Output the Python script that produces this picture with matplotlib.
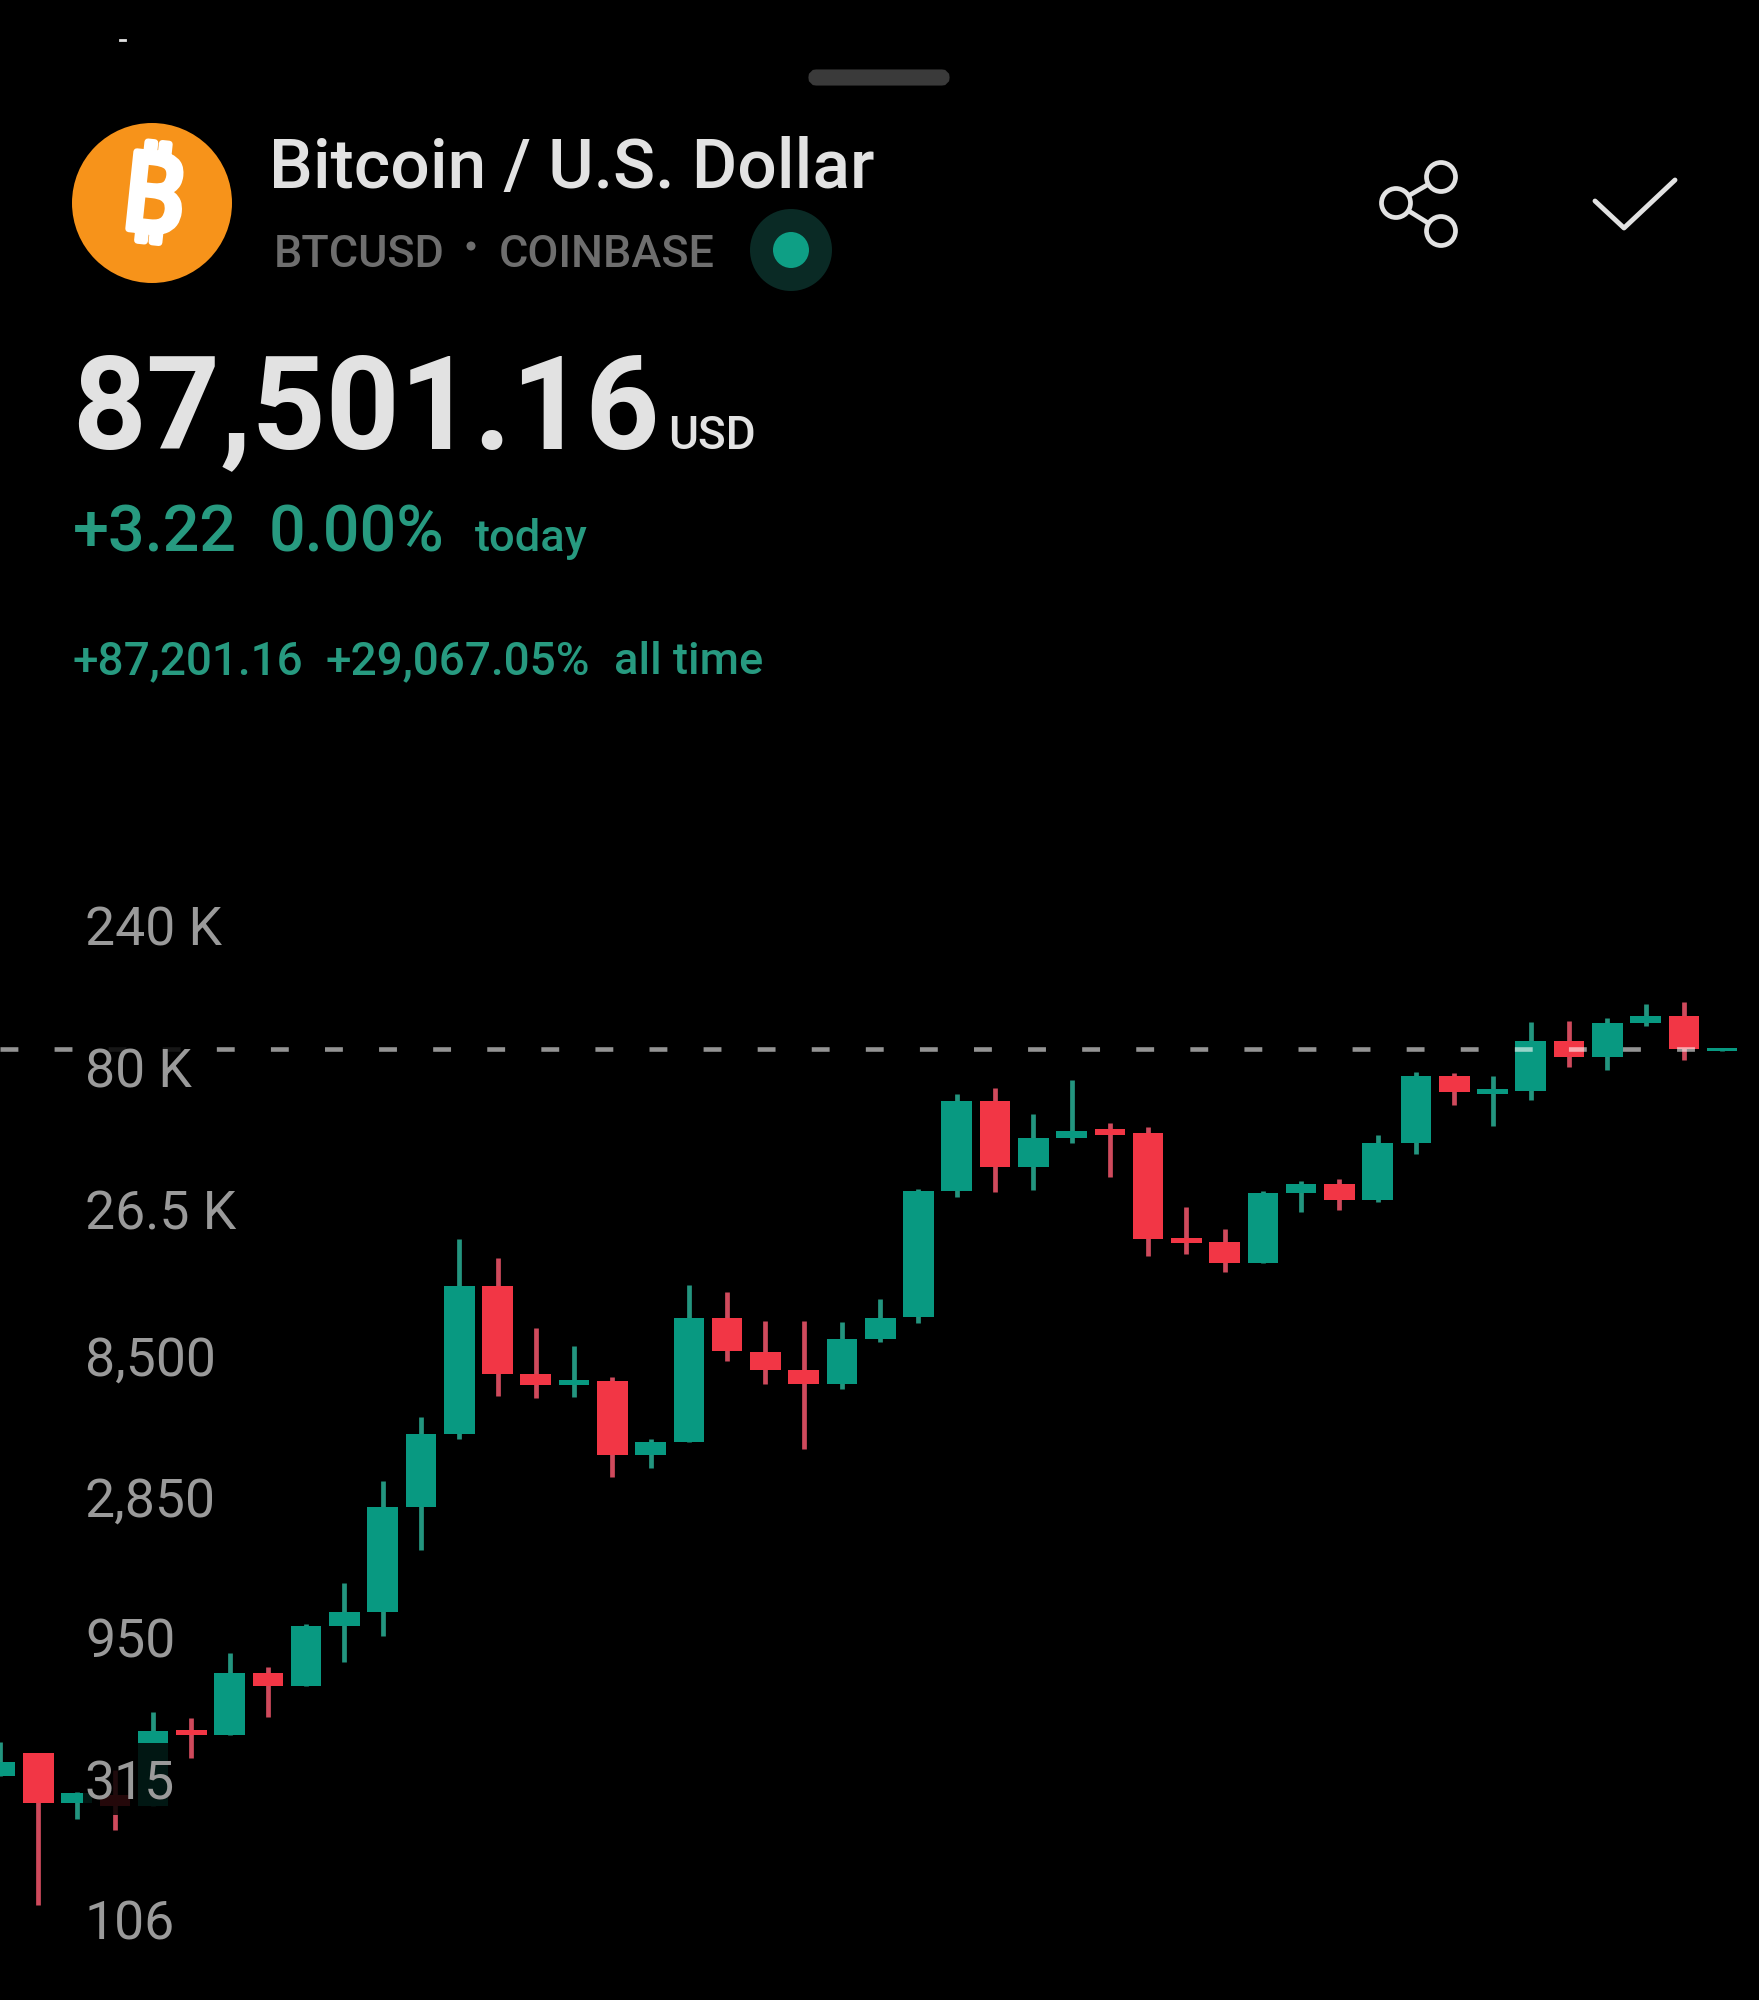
import matplotlib
matplotlib.use("Agg")
import matplotlib.pyplot as plt
import matplotlib.patheffects as pe
from matplotlib.patches import Circle, Rectangle, FancyBboxPatch

# monthly-ish candles, oldest first
opens = [308.4, 368.7, 250.0, 266.0, 244.3, 440.8, 424.0, 686.2, 620.4, 988.7, 1102, 2493,
         4395, 13880, 7005, 6431, 6634, 3733, 4130, 10823, 8310, 7226, 6482, 9194,
         10908, 29031, 58418, 34983, 43826, 47000, 45557, 20152, 19534, 16592, 28584, 30656,
         27071, 42154, 70947, 61690, 63137, 93111, 82227, 107093, 113072, 86160]
closes = [343.8, 250.0, 270.2, 244.3, 437.4, 424.0, 686.2, 620.4, 988.7, 1102, 2493, 4395,
          13880, 7005, 6431, 6686, 3733, 4130, 10823, 8376, 7226, 6482, 9194, 10823,
          29031, 58418, 34983, 43826, 46269, 44856, 19995, 19383, 16592, 28584, 30656, 27071,
          42154, 70947, 62650, 64122, 93111, 82227, 107093, 113072, 87501, 88181]
highs = [401.6, 368.7, 272.3, 323.0, 507.0, 483.9, 801.6, 719.0, 1004, 1381, 3050, 5016,
         19995, 17252, 10014, 8707, 6844, 4228, 13985, 13246, 10573, 10573, 10492, 12545,
         29484, 61690, 64620, 52804, 68770, 49242, 47729, 25639, 21611, 29031, 31374, 31868,
         44856, 73175, 72612, 70947, 107925, 108757, 111331, 124122, 126068, 88181]
lows = [308.4, 113.2, 220.8, 202.7, 244.3, 354.6, 424.0, 487.7, 620.4, 747.4, 914.8, 1785,
        4228, 5904, 5813, 5859, 3147, 3375, 4130, 7750, 6482, 3912, 6234, 8983,
        10411, 27712, 28807, 29255, 42154, 32369, 17520, 17794, 15471, 16592, 24662, 25047,
        26654, 38698, 56632, 48106, 58874, 76081, 74327, 104621, 80332, 86160]

tick_values = [240000, 80000, 26500, 8500, 2850, 950, 315, 106]
tick_labels = ["240 K", "80 K", "26.5 K", "8,500", "2,850", "950", "315", "106"]
last_price = 87501.16

GREEN = "#089981"
RED = "#F23645"
WICK_GREEN = "#23957F"
WICK_RED = "#CF4A5C"
TEXT_GREEN = "#279A80"
LIGHT = "#E2E2E2"
GREY = "#9A9A9A"
W, H = 1759, 2000
CANDLE_PX = 38.27
PX_PER_TRIPLE = 141.4
LAST_Y = 1049

fig = plt.figure(figsize=(W / 100, H / 100), dpi=100, facecolor="black")

# chart fills the whole image, log scale, each label step is a factor of 3
ax = fig.add_axes([0, 0, 1, 1], facecolor="black")
ax.set_yscale("log")
ax.set_xlim(0, W / CANDLE_PX)
ax.set_ylim(last_price * 3 ** ((LAST_Y - H) / PX_PER_TRIPLE), last_price * 3 ** (LAST_Y / PX_PER_TRIPLE))
ax.axis("off")

for i in range(len(opens)):
    up = closes[i] >= opens[i]
    ax.vlines(i, lows[i], highs[i], color=WICK_GREEN if up else WICK_RED, lw=3.4, zorder=2)
    ax.bar(i, abs(closes[i] - opens[i]), bottom=min(opens[i], closes[i]), width=0.8,
           color=GREEN if up else RED, zorder=3)

ax.plot([0, 45], [last_price, last_price], color="white", alpha=0.58, lw=3.3,
        dashes=(3.9, 7.9), dash_capstyle="butt", zorder=4)

# everything else goes on a pixel overlay
ui = fig.add_axes([0, 0, 1, 1], facecolor="none")
ui.set_xlim(0, W)
ui.set_ylim(H, 0)
ui.axis("off")

plt.rcParams["font.family"] = ["Roboto", "DejaVu Sans"]
renderer = fig.canvas.get_renderer()

# price labels with their dark see-through box
for value, label in zip(tick_values, tick_labels):
    y_px = H - ax.transData.transform((0, value))[1] + 12
    t = ui.text(85, y_px, label, color=GREY, fontsize=38.5, va="center", ha="left", zorder=6)
    box = t.get_window_extent(renderer)
    ui.add_patch(Rectangle((83, y_px - 42), box.width + 4, 72, fc="black", alpha=0.85, ec="none", zorder=5))

# top bar
ui.add_patch(FancyBboxPatch((814, 75), 130, 5, boxstyle="round,pad=0,rounding_size=2.5", fc="#3A3A3A", ec="#3A3A3A", lw=8))
ui.plot([120, 125], [40, 40], color=LIGHT, lw=2)

# logo, the stroke makes the glyph as heavy as the real one
ui.add_patch(Circle((152, 203), 80, fc="#F7931A", ec="none"))
ui.text(152, 203, "₿", color="white", fontsize=78, fontweight="bold", rotation=-6,
        ha="center", va="center", family=["Noto Sans", "Inter", "Open Sans", "DejaVu Sans"],
        path_effects=[pe.withStroke(linewidth=5, foreground="white")])

ui.text(269, 188, "Bitcoin / U.S. Dollar", color=LIGHT, fontsize=50, fontweight="medium")
ui.text(274, 267, "BTCUSD", color="#6E6E6E", fontsize=32.4, fontweight="medium")
ui.add_patch(Circle((471, 246), 4.5, fc="#6E6E6E", ec="none"))
ui.text(499, 267, "COINBASE", color="#6E6E6E", fontsize=32.4, fontweight="medium")
ui.add_patch(Circle((791, 250), 41, fc="#0A2A25", ec="none"))
ui.add_patch(Circle((791, 250), 18, fc="#0E9F85", ec="none"))

# share and check icons
for a, b in [((1396, 203), (1441, 177)), ((1396, 203), (1441, 231))]:
    ui.plot([a[0], b[0]], [a[1], b[1]], color=LIGHT, lw=3.4, zorder=2)
for c in [(1396, 203), (1441, 177), (1441, 231)]:
    ui.add_patch(Circle(c, 14.5, fc="black", ec=LIGHT, lw=3.4, zorder=3))
ui.plot([1595, 1624, 1675], [201, 228, 180], color=LIGHT, lw=3.5, solid_capstyle="round")

ui.text(72, 448, "87,501.16", color=LIGHT, fontsize=93, fontweight="bold")
ui.text(668, 449, "USD", color=LIGHT, fontsize=33, fontweight="medium")
ui.text(73, 551, "+3.22", color=TEXT_GREEN, fontsize=46.5, fontweight="medium")
ui.text(269, 551, "0.00%", color=TEXT_GREEN, fontsize=46.5, fontweight="medium")
ui.text(475, 551, "today", color=TEXT_GREEN, fontsize=32.6, fontweight="medium")
ui.text(73, 674, "+87,201.16", color=TEXT_GREEN, fontsize=33, fontweight="medium")
ui.text(326, 674, "+29,067.05%", color=TEXT_GREEN, fontsize=33, fontweight="medium")
ui.text(614, 674, "all time", color=TEXT_GREEN, fontsize=32.6, fontweight="medium")

fig.savefig("out.png", dpi=100, facecolor="black")
